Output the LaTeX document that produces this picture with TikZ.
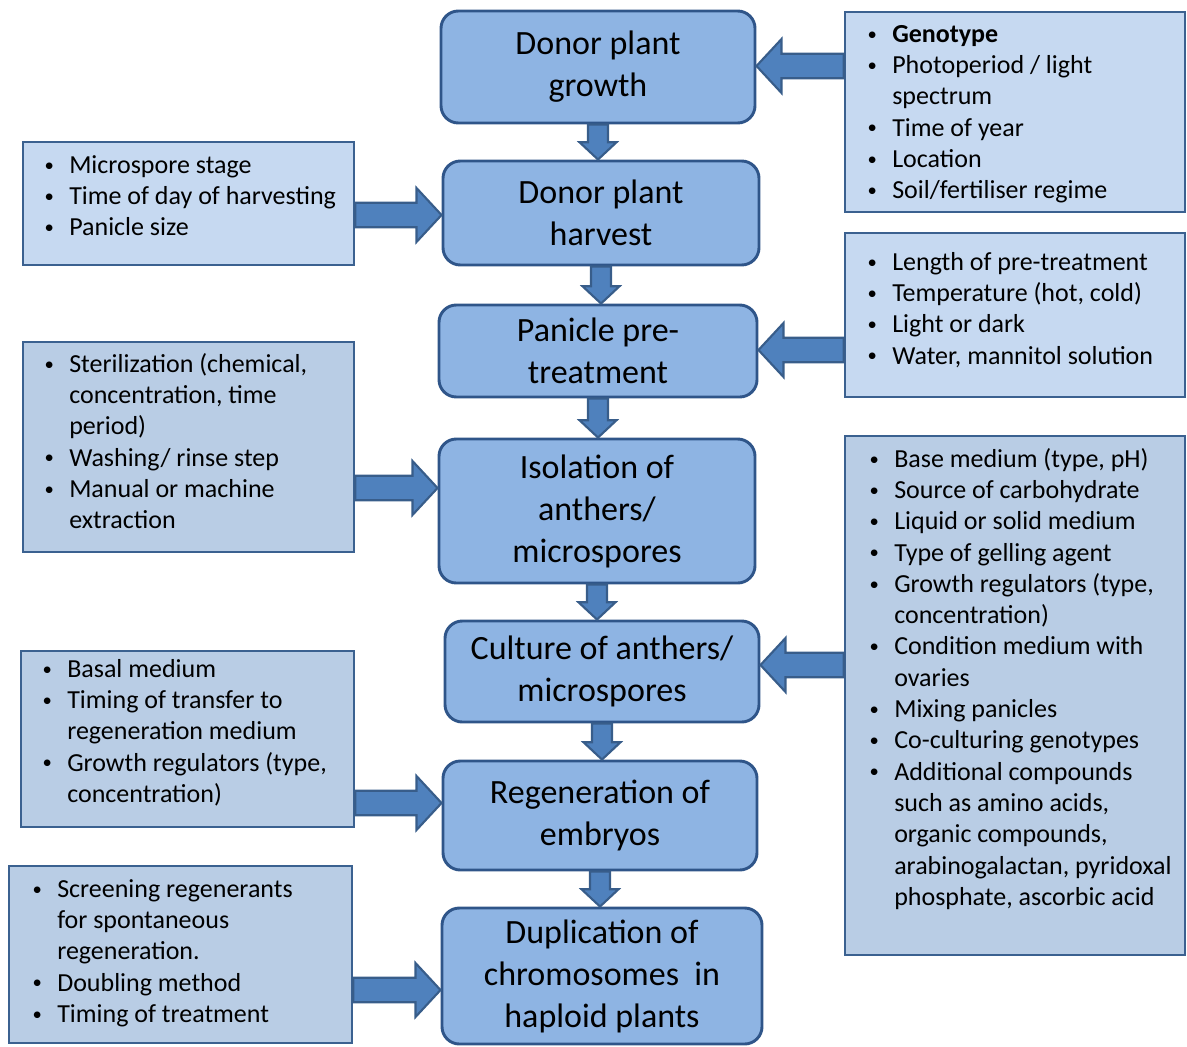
\documentclass[tikz,border=0pt]{standalone}
\usepackage{fontspec}
\setmainfont{Carlito}
\usetikzlibrary{calc}
\definecolor{mainfill}{HTML}{8EB4E3}
\definecolor{mainline}{HTML}{2F5589}
\definecolor{sidelightfill}{HTML}{C6D9F1}
\definecolor{sidedarkfill}{HTML}{B9CDE5}
\definecolor{sideline}{HTML}{3B6190}
\definecolor{arrfill}{HTML}{4F81BD}
\definecolor{arrline}{HTML}{385D8A}
\newcommand{\mfont}{\fontsize{25.5}{31.5}\selectfont}
\newcommand{\sfont}{\fontsize{19.5}{23.47}\selectfont}
\newcommand{\smallbullet}{\raisebox{1.6pt}{\fontsize{14}{14}\selectfont\textbullet}}
\newcommand{\bl}[1]{\strut\makebox[19.5pt][l]{\hspace*{1pt}\smallbullet}#1}
\newcommand{\cl}[1]{\strut\hspace*{19.5pt}#1}
% box from (x1,y1) to (x2,y2) in px
\newcommand{\pxbox}[7]{%
  \node[#1, minimum width={(#5-#3)*0.75pt}, minimum height={(#6-#4)*0.75pt}]
    (#2) at ({(#3+#5)/2},{(#4+#6)/2}) {#7};}
% horizontal block arrow: #1 start, #2 tip
\newcommand{\harr}[2]{%
  \draw[barrow] let \p1=(#1), \p2=(#2), \n1={sign(\x2-\x1)} in
    (\x1,\y1+9.2pt) -- ({\x2-\n1*18.75pt},\y1+9.2pt) -- ({\x2-\n1*18.75pt},\y1+20.2pt)
    -- (\x2,\y1) -- ({\x2-\n1*18.75pt},\y1-20.2pt) -- ({\x2-\n1*18.75pt},\y1-9.2pt)
    -- (\x1,\y1-9.2pt) -- cycle;}
% vertical block arrow downwards: #1 source node, #2 target node
\newcommand{\varr}[2]{%
  \draw[barrow] let \p1=(#1.south), \p2=(#2.north) in
    (\x1-7.5pt,\y1) -- (\x1-7.5pt,\y2+13pt) -- (\x1-13.9pt,\y2+13pt) -- (\x1,\y2)
    -- (\x1+13.9pt,\y2+13pt) -- (\x1+7.5pt,\y2+13pt) -- (\x1+7.5pt,\y1) -- cycle;}
\begin{document}
\begin{tikzpicture}[x=0.75pt,y=-0.75pt,
  mainbox/.style={draw=mainline, fill=mainfill, line width=2.2pt, rounded corners=13pt,
    align=center, font=\mfont, inner sep=0pt},
  sidelight/.style={draw=sideline, fill=sidelightfill, line width=1.9pt, inner sep=0pt},
  sidedark/.style={draw=sideline, fill=sidedarkfill, line width=1.9pt, inner sep=0pt},
  sidetext/.style={align=left, font=\sfont, inner sep=0pt, anchor=north west},
  barrow/.style={draw=arrline, fill=arrfill, line width=1.6pt, line join=miter}]
\useasboundingbox (0,0) rectangle (1187,1046);
% main boxes
\pxbox{mainbox}{m1}{441}{11}{755}{123}{Donor plant\\growth}
\pxbox{mainbox}{m2}{443}{161}{759}{265}{Donor plant\\harvest}
\pxbox{mainbox}{m3}{439}{305}{757}{397}{Panicle pre-\\treatment}
\pxbox{mainbox}{m4}{439}{439}{755}{583}{Isolation of\\anthers/\\microspores}
\pxbox{mainbox}{m5}{445}{621}{759}{722}{Culture of anthers/\\microspores}
\pxbox{mainbox}{m6}{443}{761}{757}{870}{Regeneration of\\embryos}
\pxbox{mainbox}{m7}{442}{908}{762}{1044}{Duplication of\\chromosomes\ \ in\\haploid plants}
% side boxes
\pxbox{sidelight}{r1}{845}{12}{1185}{212}{}
\pxbox{sidelight}{l1}{23}{142}{354}{265}{}
\pxbox{sidelight}{r2}{845}{233}{1185}{397}{}
\pxbox{sidedark}{l2}{23}{342}{354}{552}{}
\pxbox{sidedark}{r3}{845}{436}{1185}{955}{}
\pxbox{sidedark}{l3}{21}{651}{354}{827}{}
\pxbox{sidedark}{l4}{9}{866}{352}{1043}{}
% side texts
\node[sidetext] (r1t) at (866,20) {\bl{\textbf{Genotype}}\\\bl{Photoperiod / light}\\\cl{spectrum}\\\bl{Time of year}\\\bl{Location}\\\bl{Soil/fertiliser regime}};
\node[sidetext] (l1t) at (43,151) {\bl{Microspore stage}\\\bl{Time of day of harvesting}\\\bl{Panicle size}};
\node[sidetext] (r2t) at (866,248) {\bl{Length of pre-treatment}\\\bl{Temperature (hot, cold)}\\\bl{Light or dark}\\\bl{Water, mannitol solution}};
\node[sidetext] (l2t) at (43,350) {\bl{Sterilization (chemical,}\\\cl{concentration, time}\\\cl{period)}\\\bl{Washing/ rinse step}\\\bl{Manual or machine}\\\cl{extraction}};
\node[sidetext] (r3t) at (868,445) {\bl{Base medium (type, pH)}\\\bl{Source of carbohydrate}\\\bl{Liquid or solid medium}\\\bl{Type of gelling agent}\\\bl{Growth regulators (type,}\\\cl{concentration)}\\\bl{Condition medium with}\\\cl{ovaries}\\\bl{Mixing panicles}\\\bl{Co-culturing genotypes}\\\bl{Additional compounds}\\\cl{such as amino acids,}\\\cl{organic compounds,}\\\cl{arabinogalactan, pyridoxal}\\\cl{phosphate, ascorbic acid}};
\node[sidetext] (l3t) at (41,655) {\bl{Basal medium}\\\bl{Timing of transfer to}\\\cl{regeneration medium}\\\bl{Growth regulators (type,}\\\cl{concentration)}};
\node[sidetext] (l4t) at (31,875) {\bl{Screening regenerants}\\\cl{for spontaneous}\\\cl{regeneration.}\\\bl{Doubling method}\\\bl{Timing of treatment}};
% arrow levels
\coordinate (y1) at (0,66);
\coordinate (y2) at (0,215);
\coordinate (y3) at (0,350);
\coordinate (y4) at (0,488);
\coordinate (y5) at (0,665);
\coordinate (y6) at (0,803);
\coordinate (y7) at (0,990);
% horizontal arrows
\harr{r1.west |- y1}{m1.east |- y1}
\harr{l1.east |- y2}{m2.west |- y2}
\harr{r2.west |- y3}{m3.east |- y3}
\harr{l2.east |- y4}{m4.west |- y4}
\harr{r3.west |- y5}{m5.east |- y5}
\harr{l3.east |- y6}{m6.west |- y6}
\harr{l4.east |- y7}{m7.west |- y7}
% vertical arrows
\varr{m1}{m2}
\varr{m2}{m3}
\varr{m3}{m4}
\varr{m4}{m5}
\varr{m5}{m6}
\varr{m6}{m7}
\end{tikzpicture}
\end{document}
